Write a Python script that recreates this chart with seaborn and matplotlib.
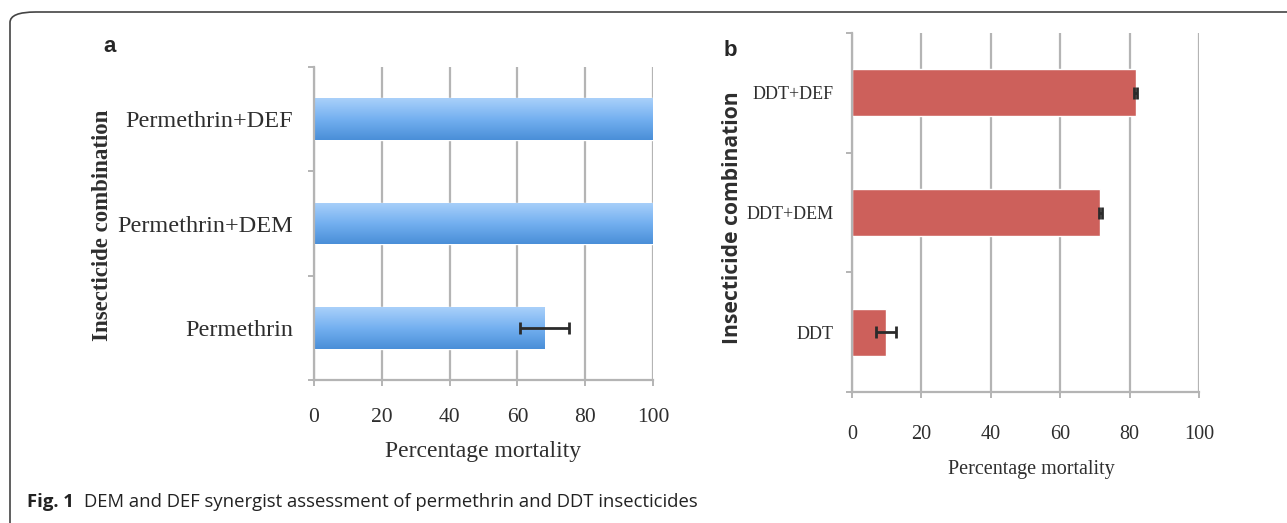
import numpy as np
import pandas as pd
import matplotlib
matplotlib.use("Agg")
import matplotlib.pyplot as plt
import seaborn as sns
from matplotlib.patches import FancyBboxPatch

# Data
perm_labels = ["Permethrin+DEF", "Permethrin+DEM", "Permethrin"]
perm_mortality = [100.0, 100.0, 68.0]
perm_error = [0.0, 0.0, 7.3]

ddt_labels = ["DDT+DEF", "DDT+DEM", "DDT"]
ddt_mortality = [81.8, 71.6, 9.8]
ddt_error = [0.4, 0.4, 2.9]

x_ticks = [0, 20, 40, 60, 80, 100]

sns.set_style("white")
plt.rcParams["font.family"] = ["Liberation Serif", "DejaVu Serif"]

TEXT = "#2e2e2e"
GRID = "#b4b4b4"

fig = plt.figure(figsize=(12.87, 5.23), dpi=100)

# Frame around the figure (only top and left edges visible)
frame = FancyBboxPatch((10 / 1287, -0.2), 1.2, (523 - 12) / 523 + 0.2,
                       boxstyle="round,pad=0,rounding_size=0.02",
                       transform=fig.transFigure, fill=False,
                       edgecolor="#444444", linewidth=1.2)
fig.patches.append(frame)

ax_a = fig.add_axes([314 / 1287, 1 - 380 / 523, 339 / 1287, 313 / 523])
ax_b = fig.add_axes([852 / 1287, 1 - 392 / 523, 347 / 1287, 359 / 523])

df_a = pd.DataFrame({"combo": perm_labels, "mort": perm_mortality, "err": perm_error})
df_b = pd.DataFrame({"combo": ddt_labels, "mort": ddt_mortality, "err": ddt_error})

sns.barplot(data=df_a, x="mort", y="combo", order=perm_labels, orient="h",
            color="#6aa9ee", saturation=1, width=0.4, errorbar=None, ax=ax_a)
sns.barplot(data=df_b, x="mort", y="combo", order=ddt_labels, orient="h",
            color="#cd605b", saturation=1, width=0.39, errorbar=None, ax=ax_b)

# vertical gradient on the blue bars
grad = np.linspace(0, 1, 64).reshape(-1, 1)
blue_cmap = matplotlib.colors.LinearSegmentedColormap.from_list(
    "bl", ["#a9d0fa", "#74b0f0", "#4a8fd8"])
for p in ax_a.patches:
    x0, y0 = p.get_x(), p.get_y()
    w, h = p.get_width(), p.get_height()
    im = ax_a.imshow(grad, cmap=blue_cmap, aspect="auto",
                     extent=(x0, x0 + w, y0 + h, y0), zorder=p.get_zorder() + 0.1)
    im.set_clip_path(p)


def style(ax, df, ytick_size, xtick_size, ytick_pad, xtick_pad):
    # error bars at the bar centres, only where there is a spread
    ys = np.array([p.get_y() + p.get_height() / 2 for p in ax.patches])
    has = df["err"].to_numpy() > 0
    ax.errorbar(df["mort"][has], ys[has], xerr=df["err"][has], fmt="none",
                ecolor="#2b2b2b", elinewidth=2, capsize=4, capthick=2, zorder=5)
    ax.set_xlim(0, 100)
    ax.set_ylim(2.5, -0.5)
    ax.set_xticks(x_ticks)
    ax.grid(axis="x", color=GRID, linewidth=1.6)
    ax.grid(axis="y", visible=False)
    ax.set_axisbelow(True)
    for s in ["top", "right"]:
        ax.spines[s].set_visible(False)
    for s in ["left", "bottom"]:
        ax.spines[s].set_color(GRID)
        ax.spines[s].set_linewidth(1.6)
    ax.set_yticks([-0.5, 0.5, 1.5, 2.5], minor=True)
    ax.tick_params(axis="y", which="major", length=0, pad=ytick_pad,
                   labelsize=ytick_size, labelcolor=TEXT)
    ax.tick_params(axis="y", which="minor", length=4, width=1.4, color=GRID, left=True)
    ax.tick_params(axis="x", length=4, width=1.4, color=GRID, bottom=True,
                   pad=xtick_pad, labelsize=xtick_size, labelcolor=TEXT)
    ax.set_xlabel("Percentage mortality")
    ax.set_ylabel("Insecticide combination")


style(ax_a, df_a, 17.5, 15.5, 15, 16)
style(ax_b, df_b, 13, 14.5, 13.5, 20)

ax_a.xaxis.label.set(fontsize=17, color=TEXT, va="center")
ax_a.xaxis.set_label_coords(0.498, -0.23)
ax_a.yaxis.label.set(fontsize=16.5, color=TEXT, fontweight="bold", va="center")
ax_a.yaxis.set_label_coords(-0.625, 0.495)

ax_b.xaxis.label.set(fontsize=14.5, color=TEXT, va="center")
ax_b.xaxis.set_label_coords(0.516, -0.217)
ax_b.yaxis.label.set(fontsize=15.2, color=TEXT, fontweight="bold", va="center",
                     family=["Open Sans", "DejaVu Sans"])
ax_b.yaxis.set_label_coords(-0.344, 0.485)

# panel letters
fig.text(110 / 1287, 1 - 47 / 523, "a", fontsize=16, fontweight="bold",
         family=["Liberation Sans", "DejaVu Sans"], ha="center", va="center")
fig.text(730 / 1287, 1 - 50 / 523, "b", fontsize=16, fontweight="bold",
         family=["Liberation Sans", "DejaVu Sans"], ha="center", va="center")

# caption
cap_y = 1 - 502 / 523
t = fig.text(27 / 1287, cap_y, "Fig. 1", fontsize=13.3, fontweight="bold",
             family=["Open Sans", "DejaVu Sans"], va="center", color="#222222")
fig.canvas.draw()
bb = t.get_window_extent()
fig.text(bb.x1 / 1287 + 10 / 1287, cap_y,
         "DEM and DEF synergist assessment of permethrin and DDT insecticides",
         fontsize=13.3, family=["Open Sans", "DejaVu Sans"], va="center", color="#222222")

fig.savefig("out.png", dpi=100)
